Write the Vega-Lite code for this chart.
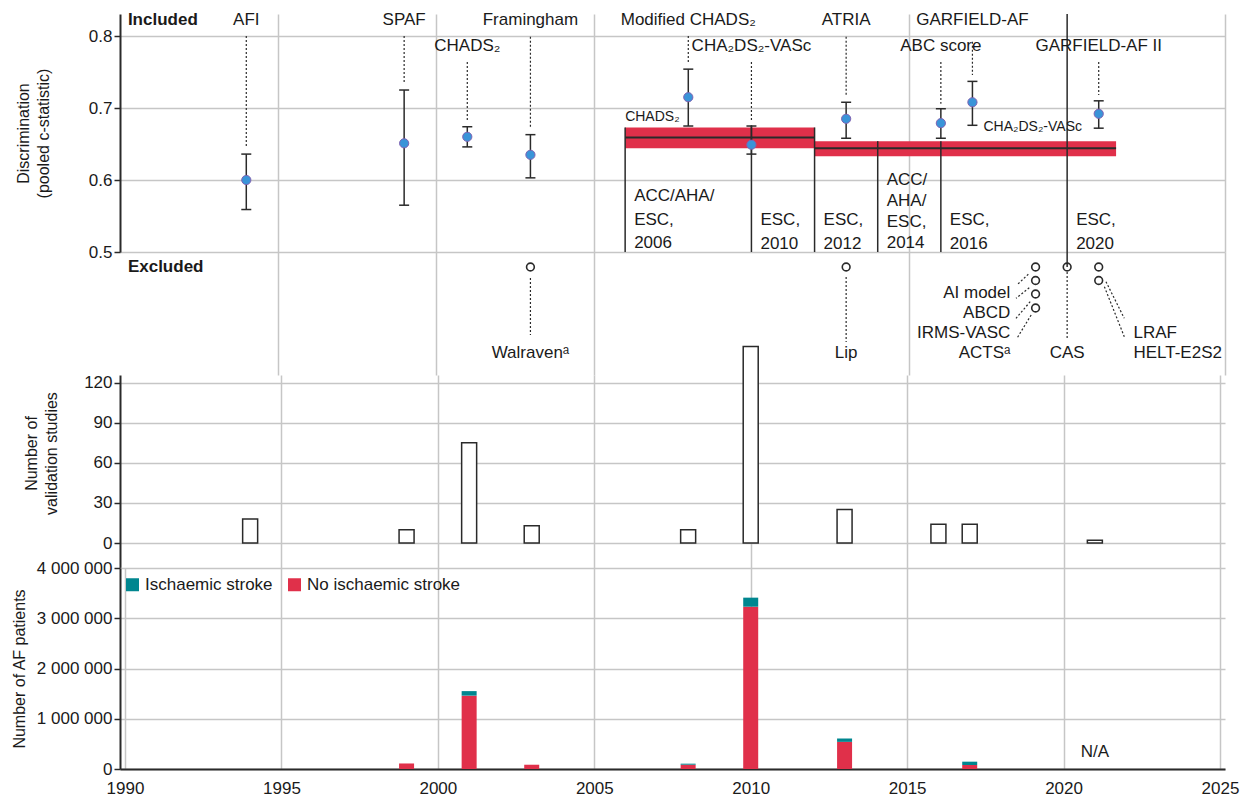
{
  "$schema": "https://vega.github.io/schema/vega-lite/v6.json",
  "background": "white",
  "padding": {"left": 10, "top": 11, "right": 5, "bottom": 5},
  "spacing": 0,
  "bounds": "flush",
  "config": {
    "font": "Liberation Sans",
    "view": {"stroke": null},
    "axis": {
      "labelFont": "Liberation Sans", "titleFont": "Liberation Sans",
      "labelFontSize": 17, "titleFontSize": 16, "titleFontWeight": "normal",
      "labelColor": "#1a1a1a", "titleColor": "#1a1a1a",
      "gridColor": "#c6c6c6", "gridWidth": 1.5,
      "domainColor": "#2a2a2a", "domainWidth": 2,
      "tickColor": "#2a2a2a", "tickWidth": 1.5, "tickSize": 6,
      "titleLineHeight": 20
    },
    "text": {"font": "Liberation Sans, DejaVu Sans", "fontSize": 17, "color": "#1a1a1a"}
  },
  "datasets": {
    "inc": [
      {"model": "AFI", "year": 1994, "c": 0.600, "lo": 0.559, "hi": 0.636, "ly": 0.822, "lt": 0.800, "lb": 0.646},
      {"model": "SPAF", "year": 1999, "c": 0.651, "lo": 0.565, "hi": 0.725, "ly": 0.822, "lt": 0.800, "lb": 0.736},
      {"model": "CHADS₂", "year": 2001, "c": 0.660, "lo": 0.646, "hi": 0.674, "ly": 0.786, "lt": 0.764, "lb": 0.683},
      {"model": "Framingham", "year": 2003, "c": 0.635, "lo": 0.603, "hi": 0.663, "ly": 0.822, "lt": 0.799, "lb": 0.674},
      {"model": "Modified CHADS₂", "year": 2008, "c": 0.715, "lo": 0.675, "hi": 0.754, "ly": 0.822, "lt": 0.800, "lb": 0.764},
      {"model": "CHA₂DS₂-VASc", "year": 2010, "c": 0.649, "lo": 0.636, "hi": 0.675, "ly": 0.786, "lt": 0.764, "lb": 0.683},
      {"model": "ATRIA", "year": 2013, "c": 0.685, "lo": 0.658, "hi": 0.708, "ly": 0.822, "lt": 0.799, "lb": 0.718},
      {"model": "ABC score", "year": 2016, "c": 0.679, "lo": 0.658, "hi": 0.699, "ly": 0.786, "lt": 0.764, "lb": 0.706},
      {"model": "GARFIELD-AF", "year": 2017, "c": 0.708, "lo": 0.676, "hi": 0.737, "ly": 0.822, "lt": 0.792, "lb": 0.746},
      {"model": "GARFIELD-AF II", "year": 2021, "c": 0.692, "lo": 0.672, "hi": 0.710, "ly": 0.786, "lt": 0.764, "lb": 0.718}
    ],
    "bands": [
      {"score": "CHADS₂", "s": 2006, "e": 2012, "lo": 0.644, "hi": 0.673, "mid": 0.659},
      {"score": "CHA₂DS₂-VASc", "s": 2012, "e": 2021.55, "lo": 0.633, "hi": 0.654, "mid": 0.644}
    ],
    "gl": [
      {"year": 2006, "top": 0.673, "txt": "ACC/AHA/\nESC,\n2006"},
      {"year": 2010, "top": 0.676, "txt": "ESC,\n2010"},
      {"year": 2012, "top": 0.673, "txt": "ESC,\n2012"},
      {"year": 2014, "top": 0.654, "txt": "ACC/\nAHA/\nESC,\n2014"},
      {"year": 2016, "top": 0.654, "txt": "ESC,\n2016"},
      {"year": 2020, "top": 0.8306, "txt": "ESC,\n2020"}
    ],
    "exc": [
      {"model": "Walraven", "year": 2003, "pos": 15},
      {"model": "Lip", "year": 2013, "pos": 15},
      {"model": "AI model", "year": 2019, "pos": 15},
      {"model": "ABCD", "year": 2019, "pos": 28.5},
      {"model": "IRMS-VASC", "year": 2019, "pos": 42},
      {"model": "ACTS", "year": 2019, "pos": 56},
      {"model": "CAS", "year": 2020, "pos": 15},
      {"model": "LRAF", "year": 2021, "pos": 15},
      {"model": "HELT-E2S2", "year": 2021, "pos": 28.5}
    ],
    "excLines": [
      {"x1": 2003, "y1": 26, "x2": 2003, "y2": 83},
      {"x1": 2013, "y1": 25, "x2": 2013, "y2": 90},
      {"x1": 2020, "y1": 20, "x2": 2020, "y2": 88},
      {"x1": 2018.77, "y1": 22.3, "x2": 2018.43, "y2": 32.3},
      {"x1": 2018.80, "y1": 35.7, "x2": 2018.38, "y2": 46.3},
      {"x1": 2018.83, "y1": 49.7, "x2": 2018.38, "y2": 66.3},
      {"x1": 2018.86, "y1": 63, "x2": 2018.41, "y2": 86.3},
      {"x1": 2021.23, "y1": 29.7, "x2": 2021.81, "y2": 66.3},
      {"x1": 2021.18, "y1": 34.7, "x2": 2021.81, "y2": 84.7}
    ],
    "excLabels": [
      {"label": "Walravenᵃ", "year": 2003, "pos": 101, "side": "center"},
      {"label": "Lip", "year": 2013, "pos": 101, "side": "center"},
      {"label": "CAS", "year": 2020, "pos": 101, "side": "center"},
      {"label": "AI model", "year": 2018.2, "pos": 41, "side": "right"},
      {"label": "ABCD", "year": 2018.2, "pos": 61, "side": "right"},
      {"label": "IRMS-VASC", "year": 2018.2, "pos": 81, "side": "right"},
      {"label": "ACTSᵃ", "year": 2018.2, "pos": 101, "side": "right"},
      {"label": "LRAF", "year": 2022.1, "pos": 81, "side": "left"},
      {"label": "HELT-E2S2", "year": 2022.1, "pos": 101, "side": "left"}
    ],
    "val": [
      {"year": 1994, "n": 18},
      {"year": 1999, "n": 10},
      {"year": 2001, "n": 75},
      {"year": 2003, "n": 13},
      {"year": 2008, "n": 10},
      {"year": 2010, "n": 147},
      {"year": 2013, "n": 25},
      {"year": 2016, "n": 14},
      {"year": 2017, "n": 14},
      {"year": 2021, "n": 2}
    ],
    "af": [
      {"year": 1999, "type": "No ischaemic stroke", "n": 110000},
      {"year": 2001, "type": "No ischaemic stroke", "n": 1460000},
      {"year": 2001, "type": "Ischaemic stroke", "n": 90000},
      {"year": 2003, "type": "No ischaemic stroke", "n": 85000},
      {"year": 2008, "type": "No ischaemic stroke", "n": 86000},
      {"year": 2008, "type": "Ischaemic stroke", "n": 20000},
      {"year": 2010, "type": "No ischaemic stroke", "n": 3230000},
      {"year": 2010, "type": "Ischaemic stroke", "n": 180000},
      {"year": 2013, "type": "No ischaemic stroke", "n": 540000},
      {"year": 2013, "type": "Ischaemic stroke", "n": 67000},
      {"year": 2017, "type": "No ischaemic stroke", "n": 80000},
      {"year": 2017, "type": "Ischaemic stroke", "n": 66000}
    ]
  },
  "vconcat": [
    {
      "width": 1105,
      "height": 238,
      "layer": [
        {
          "data": {"name": "bands"},
          "mark": {"type": "rect", "color": "#e0304a"},
          "encoding": {
            "x": {"field": "s", "type": "quantitative",
              "scale": {"domain": [1990, 2025], "nice": false, "zero": false},
              "axis": {"values": [1995, 2000, 2005, 2015, 2025], "grid": true, "labels": false, "ticks": false, "domain": false, "title": null}},
            "x2": {"field": "e"},
            "y": {"field": "lo", "type": "quantitative",
              "scale": {"domain": [0.5, 0.8306], "nice": false, "zero": false},
              "axis": {"values": [0.5, 0.6, 0.7, 0.8], "format": ".1f", "grid": true,
                "title": ["Discrimination", "(pooled c-statistic)"], "titleX": -105, "titleBaseline": "top"}},
            "y2": {"field": "hi"}
          }
        },
        {
          "data": {"name": "bands"},
          "mark": {"type": "rule", "color": "#2a2a2a", "strokeWidth": 2},
          "encoding": {
            "x": {"field": "s", "type": "quantitative"},
            "x2": {"field": "e"},
            "y": {"field": "mid", "type": "quantitative"}
          }
        },
        {
          "data": {"name": "gl"},
          "mark": {"type": "rule", "color": "#2a2a2a", "strokeWidth": 1.5},
          "encoding": {
            "x": {"field": "year", "type": "quantitative"},
            "y": {"field": "top", "type": "quantitative"},
            "y2": {"datum": 0.5}
          }
        },
        {
          "data": {"name": "gl"},
          "transform": [{"filter": "datum.year == 2006"}],
          "mark": {"type": "text", "align": "left", "baseline": "middle", "dx": 9, "dy": -56, "lineBreak": "\n", "lineHeight": 23.5},
          "encoding": {
            "x": {"field": "year", "type": "quantitative"},
            "y": {"datum": 0.5},
            "text": {"field": "txt"}
          }
        },
        {
          "data": {"name": "gl"},
          "transform": [{"filter": "datum.year != 2006 && datum.year != 2014"}],
          "mark": {"type": "text", "align": "left", "baseline": "middle", "dx": 9, "dy": -32, "lineBreak": "\n", "lineHeight": 23.5},
          "encoding": {
            "x": {"field": "year", "type": "quantitative"},
            "y": {"datum": 0.5},
            "text": {"field": "txt"}
          }
        },
        {
          "data": {"name": "gl"},
          "transform": [{"filter": "datum.year == 2014"}],
          "mark": {"type": "text", "align": "left", "baseline": "middle", "dx": 9, "dy": -72, "lineBreak": "\n", "lineHeight": 21},
          "encoding": {
            "x": {"field": "year", "type": "quantitative"},
            "y": {"datum": 0.5},
            "text": {"field": "txt"}
          }
        },
        {
          "mark": {"type": "rule", "color": "#2a2a2a", "strokeWidth": 2},
          "encoding": {"y": {"datum": 0.5}}
        },
        {
          "data": {"name": "inc"},
          "mark": {"type": "rule", "color": "#2a2a2a", "strokeWidth": 1.5},
          "encoding": {
            "x": {"field": "year", "type": "quantitative"},
            "y": {"field": "lo", "type": "quantitative"},
            "y2": {"field": "hi"}
          }
        },
        {
          "data": {"name": "inc"},
          "mark": {"type": "tick", "orient": "horizontal", "color": "#2a2a2a", "size": 10, "thickness": 1.5, "opacity": 1},
          "encoding": {
            "x": {"field": "year", "type": "quantitative"},
            "y": {"field": "lo", "type": "quantitative"}
          }
        },
        {
          "data": {"name": "inc"},
          "mark": {"type": "tick", "orient": "horizontal", "color": "#2a2a2a", "size": 10, "thickness": 1.5, "opacity": 1},
          "encoding": {
            "x": {"field": "year", "type": "quantitative"},
            "y": {"field": "hi", "type": "quantitative"}
          }
        },
        {
          "data": {"name": "inc"},
          "mark": {"type": "rule", "color": "#2a2a2a", "strokeWidth": 1.2, "strokeDash": [2, 2]},
          "encoding": {
            "x": {"field": "year", "type": "quantitative"},
            "y": {"field": "lt", "type": "quantitative"},
            "y2": {"field": "lb"}
          }
        },
        {
          "data": {"name": "inc"},
          "mark": {"type": "point", "filled": true, "fill": "#3a94d8", "stroke": "#8063b3", "strokeWidth": 1, "size": 85, "opacity": 1},
          "encoding": {
            "x": {"field": "year", "type": "quantitative"},
            "y": {"field": "c", "type": "quantitative"}
          }
        },
        {
          "data": {"name": "inc"},
          "mark": {"type": "text", "align": "center", "baseline": "middle"},
          "encoding": {
            "x": {"field": "year", "type": "quantitative"},
            "y": {"field": "ly", "type": "quantitative"},
            "text": {"field": "model"}
          }
        },
        {
          "data": {"values": [
            {"label": "CHADS₂", "year": 2006, "y": 0.6875},
            {"label": "CHA₂DS₂-VASc", "year": 2017.35, "y": 0.6736}
          ]},
          "mark": {"type": "text", "align": "left", "baseline": "middle", "fontSize": 14},
          "encoding": {
            "x": {"field": "year", "type": "quantitative"},
            "y": {"field": "y", "type": "quantitative"},
            "text": {"field": "label"}
          }
        },
        {
          "data": {"values": [{"label": "Included", "year": 1990.25, "y": 0.822}]},
          "mark": {"type": "text", "align": "left", "baseline": "middle", "fontWeight": "bold"},
          "encoding": {
            "x": {"field": "year", "type": "quantitative"},
            "y": {"field": "y", "type": "quantitative"},
            "text": {"field": "label"}
          }
        }
      ]
    },
    {
      "width": 1105,
      "height": 123,
      "layer": [
        {
          "data": {"name": "exc"},
          "mark": {"type": "point", "filled": false, "stroke": "#2a2a2a", "strokeWidth": 1.6, "size": 60, "opacity": 1},
          "encoding": {
            "x": {"field": "year", "type": "quantitative",
              "scale": {"domain": [1990, 2025], "nice": false, "zero": false},
              "axis": {"values": [1995, 2000, 2005, 2015, 2025], "grid": true, "labels": false, "ticks": false, "domain": false, "title": null}},
            "y": {"field": "pos", "type": "quantitative",
              "scale": {"domain": [0, 123], "nice": false, "zero": false, "reverse": true},
              "axis": null}
          }
        },
        {
          "mark": {"type": "rule", "color": "#2a2a2a", "strokeWidth": 2},
          "encoding": {"x": {"datum": 1990}, "y": {"datum": 0}, "y2": {"datum": 123}}
        },
        {
          "data": {"name": "excLines"},
          "mark": {"type": "rule", "color": "#2a2a2a", "strokeWidth": 1.2, "strokeDash": [2, 2]},
          "encoding": {
            "x": {"field": "x1", "type": "quantitative"},
            "x2": {"field": "x2"},
            "y": {"field": "y1", "type": "quantitative"},
            "y2": {"field": "y2"}
          }
        },
        {
          "data": {"values": [{"year": 2020, "p1": 0, "p2": 15}]},
          "mark": {"type": "rule", "color": "#2a2a2a", "strokeWidth": 1.5},
          "encoding": {
            "x": {"field": "year", "type": "quantitative"},
            "y": {"field": "p1", "type": "quantitative"},
            "y2": {"field": "p2"}
          }
        },
        {
          "data": {"name": "excLabels"},
          "transform": [{"filter": "datum.side == 'center'"}],
          "mark": {"type": "text", "align": "center", "baseline": "middle"},
          "encoding": {
            "x": {"field": "year", "type": "quantitative"},
            "y": {"field": "pos", "type": "quantitative"},
            "text": {"field": "label"}
          }
        },
        {
          "data": {"name": "excLabels"},
          "transform": [{"filter": "datum.side == 'right'"}],
          "mark": {"type": "text", "align": "right", "baseline": "middle"},
          "encoding": {
            "x": {"field": "year", "type": "quantitative"},
            "y": {"field": "pos", "type": "quantitative"},
            "text": {"field": "label"}
          }
        },
        {
          "data": {"name": "excLabels"},
          "transform": [{"filter": "datum.side == 'left'"}],
          "mark": {"type": "text", "align": "left", "baseline": "middle"},
          "encoding": {
            "x": {"field": "year", "type": "quantitative"},
            "y": {"field": "pos", "type": "quantitative"},
            "text": {"field": "label"}
          }
        },
        {
          "data": {"values": [{"label": "Excluded", "year": 1990.25, "pos": 15}]},
          "mark": {"type": "text", "align": "left", "baseline": "middle", "fontWeight": "bold"},
          "encoding": {
            "x": {"field": "year", "type": "quantitative"},
            "y": {"field": "pos", "type": "quantitative"},
            "text": {"field": "label"}
          }
        }
      ]
    },
    {
      "width": 1105,
      "height": 193,
      "layer": [
        {
          "data": {"name": "val"},
          "mark": {"type": "bar", "width": 15, "fill": "white", "stroke": "#2a2a2a", "strokeWidth": 1.5},
          "encoding": {
            "x": {"field": "year", "type": "quantitative",
              "scale": {"domain": [1990, 2025], "nice": false, "zero": false},
              "axis": {"values": [1995, 2000, 2005, 2010, 2015, 2020, 2025], "grid": true, "labels": false, "ticks": false, "domain": false, "title": null}},
            "y": {"field": "n", "type": "quantitative",
              "scale": {"domain": [-18.71, 125.75], "nice": false, "zero": false},
              "axis": {"values": [0, 30, 60, 90, 120], "grid": true,
                "title": ["Number of", "validation studies"], "titleX": -97, "titleY": 78, "titleBaseline": "top"}},
            "y2": {"datum": 0}
          }
        },
        {
          "mark": {"type": "rule", "color": "#2a2a2a", "strokeWidth": 2},
          "encoding": {"y": {"datum": 0}}
        }
      ]
    },
    {
      "width": 1105,
      "height": 201,
      "layer": [
        {
          "data": {"name": "af"},
          "mark": {"type": "bar", "width": 15},
          "encoding": {
            "x": {"field": "year", "type": "quantitative",
              "scale": {"domain": [1990, 2025], "nice": false, "zero": false},
              "axis": {"values": [1990, 1995, 2000, 2005, 2010, 2015, 2020, 2025], "format": "d", "grid": true, "ticks": false, "domain": true, "labelPadding": 11, "title": null}},
            "y": {"field": "n", "type": "quantitative", "stack": "zero",
              "scale": {"domain": [0, 4000000], "nice": false},
              "axis": {"values": [0, 1000000, 2000000, 3000000, 4000000], "grid": true,
                "labelExpr": "datum.value == 0 ? '0' : format(datum.value / 1000000, 'd') + ' 000 000'",
                "title": "Number of AF patients", "titleX": -109, "titleBaseline": "top"}},
            "color": {"field": "type", "type": "nominal",
              "scale": {"domain": ["Ischaemic stroke", "No ischaemic stroke"], "range": ["#00868f", "#e0304a"]},
              "legend": {"orient": "none", "legendX": 4, "legendY": 562, "direction": "horizontal", "title": null,
                "symbolType": "square", "symbolSize": 169, "symbolStrokeWidth": 0, "labelFontSize": 17,
                "labelFont": "Liberation Sans", "labelColor": "#1a1a1a", "columnPadding": 13, "labelOffset": 4, "padding": 0}},
            "order": {"field": "type", "sort": "descending"}
          }
        },
        {
          "mark": {"type": "rule", "color": "#2a2a2a", "strokeWidth": 2},
          "encoding": {"y": {"datum": 4000000}}
        },
        {
          "data": {"values": [{"label": "N/A", "year": 2021, "v": 330000}]},
          "mark": {"type": "text", "align": "center", "baseline": "middle"},
          "encoding": {
            "x": {"field": "year", "type": "quantitative"},
            "y": {"field": "v", "type": "quantitative"},
            "text": {"field": "label"}
          }
        }
      ]
    }
  ]
}
